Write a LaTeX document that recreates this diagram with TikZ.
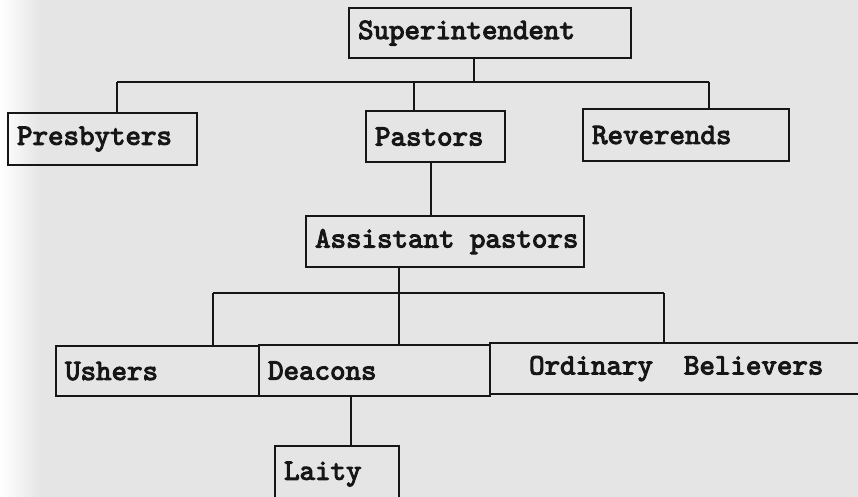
\documentclass[tikz,border=0pt]{standalone}
\usepackage{fontspec}
\newfontfamily\boxfont[FakeBold=3.5]{lmmono10-regular.otf}
\DeclareRobustCommand\rolefont{\fontsize{29.5}{32}\selectfont\boxfont}
\usepackage{tikz}
\definecolor{paper}{RGB}{229,229,229}
\definecolor{ink}{RGB}{22,22,22}
\tikzset{
  rolebox/.style={draw=ink, line width=2.2pt, anchor=north west, align=left,
    inner xsep=9pt, inner ysep=0pt, text=ink, font=\rolefont},
  link/.style={draw=ink, line width=2.2pt}
}
\begin{document}
\begin{tikzpicture}[x=1pt,y=1pt]
\useasboundingbox (0,0) rectangle (858,-497);
\fill[paper] (0,0) rectangle (858,-497);
\shade[left color=white, right color=paper] (0,0) rectangle (40,-497);
\clip (0,0) rectangle (858,-497);

\node[rolebox, text width=264, minimum height=50] (sup) at (348,-7) {Superintendent};
\node[rolebox, text width=171, minimum height=52] (pres) at (7,-112) {Presbyters};
\node[rolebox, text width=121, minimum height=51] (past) at (365,-110) {Pastors};
\node[rolebox, text width=188, minimum height=52] (rev) at (582,-108) {Reverends};
\node[rolebox, text width=260, minimum height=51] (asst) at (305,-215) {\mbox{Assistant\hspace{0.525em}pastors}};
\node[rolebox, text width=185, minimum height=50] (ush) at (55,-345) {Ushers};
\node[rolebox, text width=213, minimum height=51] (deac) at (258,-344) {Deacons};
\node[rolebox, inner xsep=39pt, text width=320, minimum height=51] (ord) at (489,-342) {\mbox{Ordinary\hspace{1.05em}Believers}};
\node[rolebox, text width=106, minimum height=56] (laity) at (274,-445) {Laity};

\coordinate (busA) at (117,-82);
\coordinate (busB) at (709,-82);
\coordinate (busC) at (213,-293);
\coordinate (busD) at (664,-293);

\draw[link] (busA) -- (busB);
\draw[link] ([xshift=-16]sup.south) -- ([xshift=-16]sup.south |- busA);
\draw[link] (busA) -- (busA |- pres.north);
\draw[link] ([xshift=-21.5]past.north |- busA) -- ([xshift=-21.5]past.north);
\draw[link] (busB) -- (busB |- rev.north);
\draw[link] ([xshift=-4.5]past.south) -- ([xshift=-4.5]past.south |- asst.north);

\draw[link] (busC) -- (busD);
\draw[link] ([xshift=-46]asst.south) -- ([xshift=-46]asst.south |- deac.north);
\draw[link] (busC) -- (busC |- ush.north);
\draw[link] (busD) -- (busD |- ord.north);
\draw[link] ([xshift=-23.5]deac.south) -- ([xshift=-23.5]deac.south |- laity.north);
\end{tikzpicture}
\end{document}
